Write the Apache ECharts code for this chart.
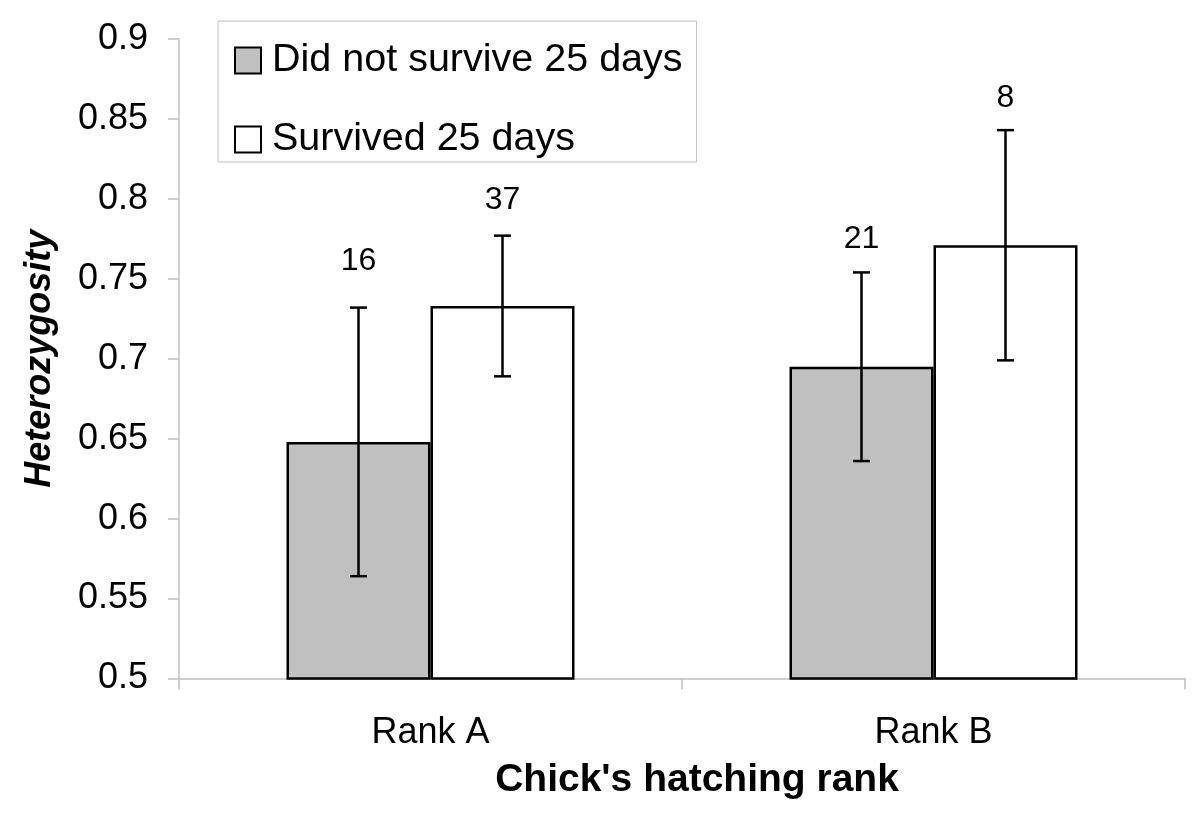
<!DOCTYPE html>
<html>
<head>
<meta charset="utf-8">
<script src="https://cdn.jsdelivr.net/npm/echarts@6/dist/echarts.min.js"></script>
<style>
html,body{margin:0;padding:0;background:#fff;}
#chart{width:1200px;height:827px;}
</style>
</head>
<body>
<div id="chart"></div>
<script>
// ---- data ----
const categories = ['Rank A', 'Rank B'];
const seriesNames = ['Did not survive 25 days', 'Survived 25 days'];
const diedMean = [0.648, 0.695];
const diedErr = [0.084, 0.059];
const survivedMean = [0.733, 0.771];
const survivedErr = [0.044, 0.072];
const diedN = [16, 21];
const survivedN = [37, 8];
const diedLabelY = [0.761, 0.775];
const survivedLabelY = [0.799, 0.863];
const yTicks = [0.5, 0.55, 0.6, 0.65, 0.7, 0.75, 0.8, 0.85, 0.9];

// ---- style ----
const FONT = 'Liberation Sans, Arial, sans-serif';
const BAR_W = 144;
const fills = ['#c0c0c0', '#ffffff'];

function errSeries(means, errs, ns, labelYs, idx) {
  const data = means.map((m, i) => [i, m - errs[i], m + errs[i], ns[i], labelYs[i]]);
  return {
    type: 'custom',
    name: seriesNames[idx] + ' err',
    z: 5,
    silent: true,
    data: data,
    encode: { x: 0, y: [1, 2] },
    renderItem: function (params, api) {
      const ci = api.value(0);
      const lo = api.coord([ci, api.value(1)]);
      const hi = api.coord([ci, api.value(2)]);
      const lab = api.coord([ci, api.value(4)]);
      const dx = (idx - 0.5) * BAR_W;
      const x = lo[0] + dx;
      const cap = 8.5;
      const st = { stroke: '#000', lineWidth: 2.5 };
      return {
        type: 'group',
        children: [
          { type: 'line', shape: { x1: x, y1: lo[1], x2: x, y2: hi[1] }, style: st },
          { type: 'line', shape: { x1: x - cap, y1: lo[1], x2: x + cap, y2: lo[1] }, style: st },
          { type: 'line', shape: { x1: x - cap, y1: hi[1], x2: x + cap, y2: hi[1] }, style: st },
          { type: 'text', x: x, y: lab[1], style: { text: String(api.value(3)), fill: '#000', font: '32px ' + FONT, align: 'center', verticalAlign: 'middle' } }
        ]
      };
    }
  };
}

const chart = echarts.init(document.getElementById('chart'), null, { renderer: 'canvas' });
chart.setOption({
  backgroundColor: '#ffffff',
  animation: false,
  grid: { left: 179, right: 15, top: 39, bottom: 148.5, containLabel: false },
  legend: {
    orient: 'vertical',
    left: 218,
    top: 21,
    data: seriesNames,
    itemWidth: 26,
    itemHeight: 26,
    itemGap: 38,
    padding: [19, 14, 2, 16],
    borderColor: '#c0c0c0',
    borderWidth: 1,
    backgroundColor: '#fff',
    icon: 'rect',
    itemStyle: { borderColor: '#000', borderWidth: 2 },
    textStyle: { fontFamily: FONT, fontSize: 39.5, color: '#000', lineHeight: 41, padding: [0, 0, 0, 6] }
  },
  xAxis: {
    type: 'category',
    data: categories,
    boundaryGap: true,
    axisLine: { lineStyle: { color: '#c0c0c0', width: 1.5 } },
    axisTick: { show: true, length: 11, lineStyle: { color: '#c0c0c0', width: 1.5 } },
    axisLabel: { fontFamily: FONT, fontSize: 36, color: '#000', margin: 37 },
    splitLine: { show: false },
    name: "Chick's hatching rank",
    nameLocation: 'middle',
    nameGap: 82,
    nameTextStyle: { fontFamily: FONT, fontSize: 39, fontWeight: 'bold', color: '#000', padding: [0, 0, 0, 30] }
  },
  yAxis: {
    type: 'value',
    min: yTicks[0],
    max: yTicks[yTicks.length - 1],
    interval: 0.05,
    axisLine: { show: true, lineStyle: { color: '#c0c0c0', width: 1.5 } },
    axisTick: { show: true, length: 11, lineStyle: { color: '#c0c0c0', width: 1.5 } },
    axisLabel: {
      fontFamily: FONT, fontSize: 36, color: '#000', margin: 31,
      formatter: v => String(parseFloat(v.toFixed(2)))
    },
    splitLine: { show: false },
    name: 'Heterozygosity',
    nameLocation: 'middle',
    nameRotate: 90,
    nameGap: 121,
    nameTextStyle: { fontFamily: FONT, fontSize: 36, fontWeight: 'bold', fontStyle: 'italic', color: '#000' }
  },
  series: [
    {
      type: 'bar', name: seriesNames[0], data: diedMean, barWidth: BAR_W, barGap: '0%',
      itemStyle: { color: fills[0], borderColor: '#000', borderWidth: 2.5 }, z: 2
    },
    {
      type: 'bar', name: seriesNames[1], data: survivedMean, barWidth: BAR_W, barGap: '0%',
      itemStyle: { color: fills[1], borderColor: '#000', borderWidth: 2.5 }, z: 2
    },
    errSeries(diedMean, diedErr, diedN, diedLabelY, 0),
    errSeries(survivedMean, survivedErr, survivedN, survivedLabelY, 1)
  ]
});
</script>
</body>
</html>
